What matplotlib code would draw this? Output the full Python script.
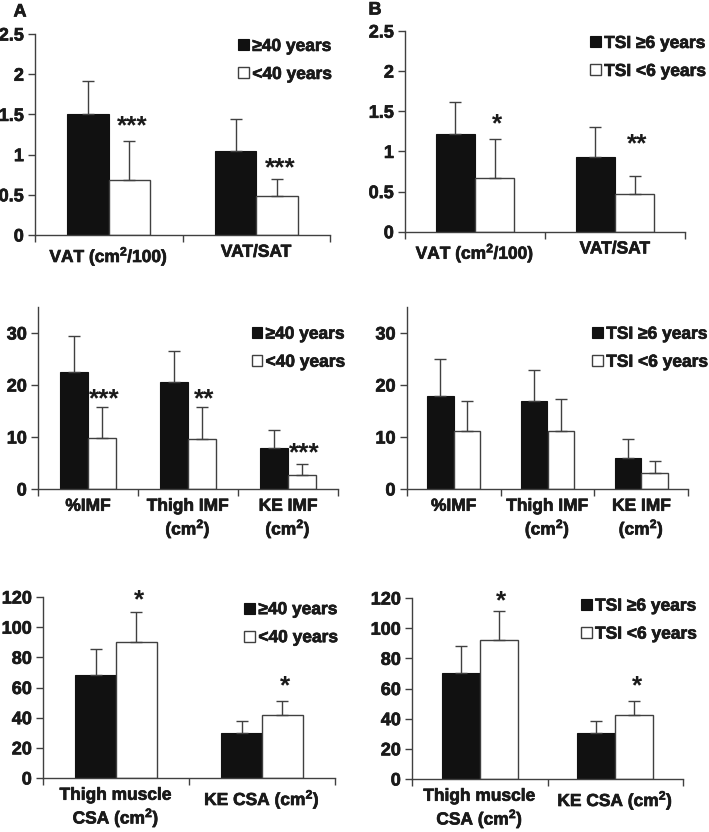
import numpy as np
import matplotlib
matplotlib.use("Agg")
import matplotlib.pyplot as plt
import matplotlib.patheffects as pe
from matplotlib.patches import Patch

# ==========================================================
# STYLE
# ==========================================================
plt.rcParams['font.family'] = ['Liberation Sans', 'DejaVu Sans']
plt.rcParams['font.weight'] = 'bold'
plt.rcParams['mathtext.fontset'] = 'custom'
plt.rcParams['mathtext.rm'] = 'Liberation Sans:bold'
plt.rcParams['mathtext.default'] = 'rm'

AXIS_GRAY = '#404040'
BAR_BLACK = '#111111'
TEXT_COLOR = '#1a1a1a'
FS = 12.5
THICK = [pe.withStroke(linewidth=0.5, foreground=TEXT_COLOR)]

# ==========================================================
# DATA
# ==========================================================
top_cats = ["VAT (cm$^2$/100)", "VAT/SAT"]
mid_cats = ["%IMF", "Thigh IMF\n(cm$^2$)", "KE IMF\n(cm$^2$)"]
bot_cats = ["Thigh muscle\nCSA (cm$^2$)", "KE CSA (cm$^2$)"]

legend_age = ["\u226540 years", "<40 years"]
legend_tsi = ["TSI \u22656 years", "TSI <6 years"]

# panel A (age)
topA_old = [1.51, 1.04]
topA_old_sd = [0.40, 0.40]
topA_young = [0.69, 0.48]
topA_young_sd = [0.48, 0.22]
topA_stars = ["***", "***"]
topA_star_y = [1.35, 0.83]

midA_old = [22.5, 20.6, 7.8]
midA_old_sd = [7.0, 5.9, 3.5]
midA_young = [9.8, 9.6, 2.6]
midA_young_sd = [6.0, 6.1, 2.2]
midA_stars = ["***", "**", "***"]
midA_star_y = [17.2, 17.2, 6.9]

botA_old = [68.3, 29.8]
botA_old_sd = [17.4, 7.8]
botA_young = [90.4, 42.0]
botA_young_sd = [19.4, 9.0]
botA_stars = ["*", "*"]
botA_star_y = [117.5, 60.5]

# panel B (time since injury)
topB_old = [1.22, 0.93]
topB_old_sd = [0.39, 0.38]
topB_young = [0.675, 0.47]
topB_young_sd = [0.475, 0.22]
topB_stars = ["*", "**"]
topB_star_y = [1.34, 1.09]

midB_old = [17.9, 16.9, 5.9]
midB_old_sd = [7.1, 5.9, 3.7]
midB_young = [11.2, 11.2, 3.1]
midB_young_sd = [5.8, 6.2, 2.2]
midB_stars = ["", "", ""]
midB_star_y = [0, 0, 0]

botB_old = [70.1, 30.7]
botB_old_sd = [18.1, 7.8]
botB_young = [92.2, 42.6]
botB_young_sd = [19.2, 8.9]
botB_stars = ["*", "*"]
botB_star_y = [117.5, 61.5]

# ==========================================================
# FIGURE
# ==========================================================
W, H = 709, 832
fig = plt.figure(figsize=(W / 100, H / 100), dpi=100)


def make_axes(left, right, top, bottom):
    return fig.add_axes([left / W, 1 - bottom / H, (right - left) / W, (bottom - top) / H])


def draw_panel(ax, cats, old, old_sd, young, young_sd, stars, star_y,
               ylim, yticks, yticklabels, labels, leg_anchor, leg_space=0.75):
    n = len(cats)
    x = np.arange(n) + 0.5
    bw = 0.28
    err_kw = dict(ecolor=AXIS_GRAY, elinewidth=1.0, capsize=4, capthick=1.0)
    ax.bar(x - bw / 2, old, bw, color=BAR_BLACK, edgecolor=BAR_BLACK, linewidth=0.8,
           yerr=[np.zeros(n), old_sd], error_kw=err_kw, zorder=2)
    ax.bar(x + bw / 2, young, bw, color='white', edgecolor=AXIS_GRAY, linewidth=1.0,
           yerr=[np.zeros(n), young_sd], error_kw=err_kw, zorder=2)

    for xi, s, sy in zip(x, stars, star_y):
        if s:
            ax.text(xi + bw / 2 + 0.02, sy, s, ha='center', va='center', fontsize=19,
                    fontweight='bold', color=TEXT_COLOR, clip_on=False)

    ax.set_xlim(0, n)
    ax.set_ylim(*ylim)
    ax.set_yticks(yticks)
    ax.set_yticklabels(yticklabels)
    ax.set_xticks(np.arange(n + 1))
    ax.set_xticklabels([])
    ax.set_xticks(x, minor=True)
    ax.set_xticklabels(cats, minor=True)
    ax.tick_params(axis='x', which='major', direction='out', length=5, width=1.0, color=AXIS_GRAY)
    ax.tick_params(axis='x', which='minor', length=0, pad=7, labelsize=FS)
    ax.tick_params(axis='y', direction='out', length=5, width=1.0, color=AXIS_GRAY,
                   labelsize=FS + 0.5, pad=3)
    for lab in ax.get_xticklabels(minor=True) + ax.get_yticklabels():
        lab.set_fontweight('bold')
        lab.set_color(TEXT_COLOR)
        lab.set_path_effects(THICK)

    for side in ['top', 'right']:
        ax.spines[side].set_visible(False)
    for side in ['left', 'bottom']:
        ax.spines[side].set_color(AXIS_GRAY)
        ax.spines[side].set_linewidth(1.0)

    handles = [Patch(facecolor=BAR_BLACK, edgecolor=BAR_BLACK, linewidth=0.8),
               Patch(facecolor='white', edgecolor=AXIS_GRAY, linewidth=1.0)]
    leg = ax.legend(handles, labels, loc='upper right', bbox_to_anchor=leg_anchor,
                    frameon=False, fontsize=FS, handlelength=0.6, handleheight=0.6,
                    handletextpad=0.2, labelspacing=leg_space, borderaxespad=0)
    for t in leg.get_texts():
        t.set_fontweight('bold')
        t.set_color(TEXT_COLOR)
        t.set_path_effects(THICK)


# ---------------- panel A ----------------
ax1 = make_axes(35, 330, 34, 235)
draw_panel(ax1, top_cats, topA_old, topA_old_sd, topA_young, topA_young_sd,
           topA_stars, topA_star_y, (0, 2.5), [0, 0.5, 1, 1.5, 2, 2.5],
           ["0", "0.5", "1", "1.5", "2", "2.5"], legend_age, (1.03, 1.01))

ax3 = make_axes(38, 338, 307, 489)
draw_panel(ax3, mid_cats, midA_old, midA_old_sd, midA_young, midA_young_sd,
           midA_stars, midA_star_y, (0, 35), [0, 10, 20, 30],
           ["0", "10", "20", "30"], legend_age, (1.047, 0.93))

ax5 = make_axes(43, 335, 597, 778)
draw_panel(ax5, bot_cats, botA_old, botA_old_sd, botA_young, botA_young_sd,
           botA_stars, botA_star_y, (0, 120), [0, 20, 40, 60, 80, 100, 120],
           ["0", "20", "40", "60", "80", "100", "120"], legend_age, (1.034, 1.01))

# ---------------- panel B ----------------
ax2 = make_axes(405, 685, 31, 231.7)
draw_panel(ax2, top_cats, topB_old, topB_old_sd, topB_young, topB_young_sd,
           topB_stars, topB_star_y, (0, 2.5), [0, 0.5, 1, 1.5, 2, 2.5],
           ["0", "0.5", "1", "1.5", "2", "2.5"], legend_tsi, (1.1, 1.01))

ax4 = make_axes(406.7, 688.3, 307, 489)
draw_panel(ax4, mid_cats, midB_old, midB_old_sd, midB_young, midB_young_sd,
           midB_stars, midB_star_y, (0, 35), [0, 10, 20, 30],
           ["0", "10", "20", "30"], legend_tsi, (1.095, 0.93))

ax6 = make_axes(412, 683, 598, 779)
draw_panel(ax6, bot_cats, botB_old, botB_old_sd, botB_young, botB_young_sd,
           botB_stars, botB_star_y, (0, 120), [0, 20, 40, 60, 80, 100, 120],
           ["0", "20", "40", "60", "80", "100", "120"], legend_tsi, (1.077, 1.035))

fig.text(20 / W, 1 - 12 / H, "A", fontsize=13, fontweight='bold', ha='center', va='center',
         color=TEXT_COLOR, path_effects=THICK)
fig.text(375 / W, 1 - 10 / H, "B", fontsize=13, fontweight='bold', ha='center', va='center',
         color=TEXT_COLOR, path_effects=THICK)

fig.savefig("out.png", dpi=100)
